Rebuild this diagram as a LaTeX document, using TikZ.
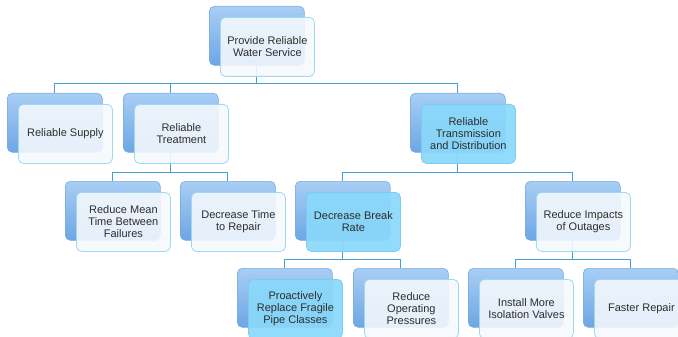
\documentclass[tikz,border=0pt]{standalone}
\usepackage{fontspec}
\setmainfont{Liberation Sans}
\definecolor{backtop}{RGB}{168,206,244}
\definecolor{backbot}{RGB}{108,166,228}
\definecolor{backedge}{RGB}{122,170,224}
\definecolor{frontfill}{RGB}{246,249,253}
\definecolor{frontedge}{RGB}{158,216,242}
\definecolor{hifill}{RGB}{138,216,250}
\definecolor{hiedge}{RGB}{122,204,240}
\definecolor{connc}{RGB}{70,160,210}
\definecolor{txt}{RGB}{45,45,45}
\begin{document}
\begin{tikzpicture}[x=1pt,y=-1pt,
  backbox/.style={draw=backedge, line width=0.6pt, top color=backtop, bottom color=backbot,
    rounded corners=5pt, minimum width=95pt, minimum height=59pt, inner sep=0pt, anchor=north west},
  frontbox/.style={draw=frontedge, line width=0.8pt, fill=frontfill, fill opacity=0.88, text opacity=1,
    rounded corners=5pt, minimum width=94pt, minimum height=59pt, inner sep=0pt, anchor=north west,
    xshift=11pt, yshift=-11pt, align=center, font=\fontsize{11}{12}\selectfont, text=txt},
  hibox/.style={frontbox, fill=hifill, draw=hiedge, fill opacity=0.92},
  conn/.style={draw=connc, line width=0.8pt}]
\useasboundingbox (0,0) rectangle (678,337);

% back cards
\node[backbox] (topB) at (209,6) {};
\node[backbox] (rsB) at (7,93) {};
\node[backbox] (rtB) at (123,93) {};
\node[backbox] (tdB) at (410,93) {};
\node[backbox] (rmB) at (65,181) {};
\node[backbox] (dtB) at (180,181) {};
\node[backbox] (dbB) at (295,181) {};
\node[backbox] (riB) at (525,181) {};
\node[backbox] (prB) at (237,268) {};
\node[backbox] (roB) at (353,268) {};
\node[backbox] (ivB) at (468,268) {};
\node[backbox] (frB) at (583,268) {};

% tree connectors
\draw[conn] (topB.south) -- ++(0,18) coordinate (bus1);
\draw[conn] (bus1) -| (rsB.north);
\draw[conn] (bus1) -| (rtB.north);
\draw[conn] (bus1) -| (tdB.north);

\draw[conn] (rtB.south) -- ++(0,20) coordinate (bus2);
\draw[conn] (bus2) -| (rmB.north);
\draw[conn] (bus2) -| (dtB.north);

\draw[conn] (tdB.south) -- ++(0,20) coordinate (bus3);
\draw[conn] (bus3) -| (dbB.north);
\draw[conn] (bus3) -| (riB.north);

\draw[conn] (dbB.south) -- ++(0,19) coordinate (bus4);
\draw[conn] (bus4) -| (prB.north);
\draw[conn] (bus4) -| (roB.north);

\draw[conn] (riB.south) -- ++(0,19) coordinate (bus5);
\draw[conn] (bus5) -| (ivB.north);
\draw[conn] (bus5) -| (frB.north);

% front cards with labels
\node[frontbox] (topF) at (topB.north west) {Provide Reliable\\Water Service};
\node[frontbox] (rsF) at (rsB.north west) {Reliable Supply};
\node[frontbox] (rtF) at (rtB.north west) {Reliable\\Treatment};
\node[hibox] (tdF) at (tdB.north west) {Reliable\\Transmission\\and Distribution};
\node[frontbox] (rmF) at (rmB.north west) {Reduce Mean\\Time Between\\Failures};
\node[frontbox] (dtF) at (dtB.north west) {Decrease Time\\to Repair};
\node[hibox] (dbF) at (dbB.north west) {Decrease Break\\Rate};
\node[frontbox] (riF) at (riB.north west) {Reduce Impacts\\of Outages};
\node[hibox] (prF) at (prB.north west) {Proactively\\Replace Fragile\\Pipe Classes};
\node[frontbox] (roF) at (roB.north west) {Reduce\\Operating\\Pressures};
\node[frontbox] (ivF) at (ivB.north west) {Install More\\Isolation Valves};
\node[frontbox] (frF) at (frB.north west) {Faster Repair};
\end{tikzpicture}
\end{document}
